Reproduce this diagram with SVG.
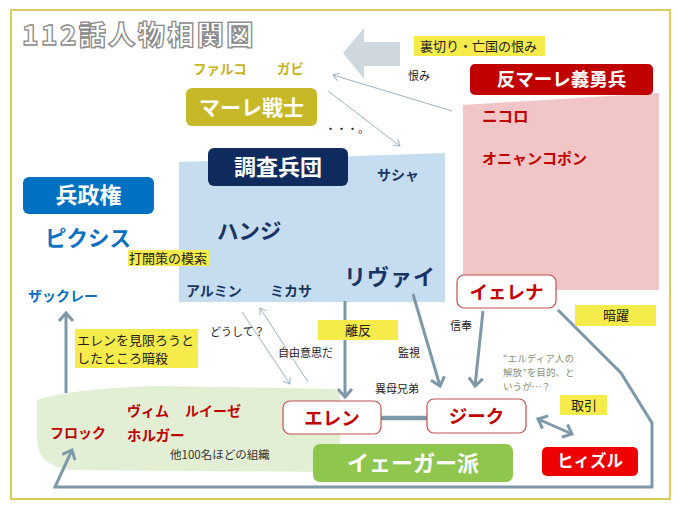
<svg xmlns="http://www.w3.org/2000/svg" width="680" height="510" viewBox="0 0 680 510">
<defs>
<style>
text{font-family:"Noto Sans CJK JP","Noto Sans",sans-serif;}
.b{font-weight:700;}
.w{fill:#ffffff;font-weight:700;}
.red{fill:#c00000;font-weight:700;}
.navy{fill:#1a3466;font-weight:700;}
.blue{fill:#0b70bf;font-weight:700;}
.gold{fill:#c8b21d;font-weight:700;}
.sm{fill:#222;font-size:11px;}
.hl{fill:#f5ec4c;}
.lbl{fill:#222;font-size:13px;}
.thick{stroke:#7d99a9;stroke-width:3;fill:none;}
.thin{stroke:#9fb3c2;stroke-width:1;fill:none;}
.nb{fill:#fff;stroke:#c0504d;stroke-width:1.2;}
.q{fill:#8a8f6a;font-size:9.6px;}
</style>
<marker id="ah" markerUnits="userSpaceOnUse" markerWidth="16" markerHeight="16" refX="9" refY="8" orient="auto-start-reverse">
<path d="M1,1 L9,8 L1,15" fill="none" stroke="#7d99a9" stroke-width="3"/>
</marker>
<marker id="at" markerUnits="userSpaceOnUse" markerWidth="10" markerHeight="10" refX="7" refY="5" orient="auto">
<path d="M1,1 L7,5 L1,9" fill="none" stroke="#9fb3c2" stroke-width="1"/>
</marker>
</defs>
<rect x="0" y="0" width="680" height="510" fill="#ffffff"/>
<rect x="11" y="10" width="659" height="489" fill="none" stroke="#d8cc5a" stroke-width="2"/>
<text x="22" y="45" font-size="27" font-weight="900" fill="#ffffff" stroke="#8a8a8a" stroke-width="1.3" letter-spacing="2.5">112話人物相関図</text>

<!-- background areas -->
<polygon points="463,105 659,93 659,290 463,290" fill="#f2c5c6"/>
<polygon points="179,162 445,153 445,302 179,302" fill="#c6ddf0"/>
<path d="M37,400 C60,392 110,387 157,386 L340,389 L340,472 L70,470 C46,466 38,456 37,440 Z" fill="#e3efd5"/>
<polygon points="343,53 364,28 364,42 400,42 400,66 364,66 364,79" fill="#cfd8de"/>

<!-- connectors -->
<g id="connectors">
<line class="thin" x1="452" y1="111" x2="333" y2="75" marker-end="url(#at)"/>
<line class="thin" x1="328" y1="91" x2="400" y2="146" marker-end="url(#at)"/>
<line class="thin" x1="242" y1="312" x2="290" y2="384" marker-end="url(#at)"/>
<line class="thin" x1="308" y1="382" x2="260" y2="308" marker-end="url(#at)"/>
<line class="thick" x1="345" y1="301" x2="345" y2="397" marker-end="url(#ah)"/>
<line class="thick" x1="413" y1="294" x2="440" y2="386" marker-end="url(#ah)"/>
<line class="thick" x1="483" y1="311" x2="475" y2="386" marker-end="url(#ah)"/>
<line x1="381" y1="418" x2="427" y2="418" stroke="#7d99a9" stroke-width="4.5"/>
<line class="thick" x1="538" y1="419" x2="572" y2="434" marker-start="url(#ah)" marker-end="url(#ah)"/>
<line class="thick" x1="66" y1="393" x2="66" y2="313" marker-end="url(#ah)"/>
<polyline class="thick" stroke-width="2.5" points="558,310 621,373 652,423 652,487 55,487 72,450" marker-end="url(#ah)"/>
</g>

<!-- labels -->
<g id="labels">
<rect class="hl" x="414" y="36" width="131" height="20"/>
<text class="lbl" x="420" y="51">裏切り・亡国の恨み</text>
<text class="sm" x="408" y="80">恨み</text>
<text x="325" y="133" font-size="11" fill="#222">・・・。</text>
<rect class="hl" x="128" y="250" width="81" height="16"/>
<text class="lbl" x="129" y="263">打開策の模索</text>
<rect class="hl" x="75" y="329" width="123" height="39"/>
<text class="lbl" x="77" y="345" font-size="12.5">エレンを見限ろうと</text>
<text class="lbl" x="77" y="363" font-size="12.5">したところ暗殺</text>
<text class="sm" x="210" y="336">どうして？</text>
<text class="sm" x="278" y="357">自由意思だ</text>
<rect class="hl" x="318" y="320" width="80" height="20"/>
<text class="lbl" x="345" y="335">離反</text>
<text class="sm" x="398" y="357">監視</text>
<text class="sm" x="450" y="330">信奉</text>
<text class="sm" x="375" y="393">異母兄弟</text>
<rect class="hl" x="575" y="305" width="81" height="21"/>
<text class="lbl" x="603" y="320">暗躍</text>
<text class="q" x="503" y="362">“エルディア人の</text>
<text class="q" x="503" y="376">解放”を目的、と</text>
<text class="q" x="503" y="390">いうが…？</text>
<rect class="hl" x="560" y="395" width="47" height="20"/>
<text class="lbl" x="571" y="410">取引</text>
<text x="170" y="459" font-size="11.5" fill="#333">他100名ほどの組織</text>
</g>

<!-- nodes -->
<g id="marley-warriors">
<rect x="186" y="88" width="131" height="38" rx="6" fill="#c6b826"/>
<text class="w" x="251.5" y="115" font-size="21" text-anchor="middle">マーレ戦士</text>
<text class="gold" x="193" y="74" font-size="13.5">ファルコ</text>
<text class="gold" x="277" y="74" font-size="13.5">ガビ</text>
</g>
<g id="anti-marley">
<rect x="470" y="64" width="183" height="31" rx="5" fill="#c00000"/>
<text class="w" x="561.5" y="86" font-size="18.5" text-anchor="middle">反マーレ義勇兵</text>
<text class="red" x="482" y="122" font-size="15.5">ニコロ</text>
<text class="red" x="482" y="164" font-size="15">オニャンコポン</text>
</g>
<g id="survey-corps">
<rect x="208" y="148" width="140" height="38" rx="6" fill="#102b5e"/>
<text class="w" x="278" y="175" font-size="22" text-anchor="middle">調査兵団</text>
<text class="navy" x="377" y="180" font-size="14">サシャ</text>
<text class="navy" x="217" y="239" font-size="21.5">ハンジ</text>
<text class="navy" x="344" y="285" font-size="22" letter-spacing="1">リヴァイ</text>
<text class="navy" x="186" y="296" font-size="14">アルミン</text>
<text class="navy" x="270" y="296" font-size="14">ミカサ</text>
</g>
<g id="military-gov">
<rect x="23" y="177" width="131" height="37" rx="6" fill="#0070c0"/>
<text class="w" x="88.5" y="203" font-size="22" text-anchor="middle">兵政権</text>
<text class="blue" x="45" y="246" font-size="21.5">ピクシス</text>
<text class="blue" x="28" y="301" font-size="14">ザックレー</text>
</g>
<g id="yelena">
<rect class="nb" x="457" y="275" width="99" height="33" rx="7"/>
<text class="red" x="506.5" y="299" font-size="18.5" text-anchor="middle">イェレナ</text>
</g>
<g id="eren">
<rect class="nb" x="283" y="401" width="98" height="33" rx="7"/>
<text class="red" x="332" y="425" font-size="18.5" text-anchor="middle">エレン</text>
</g>
<g id="zeke">
<rect class="nb" x="427" y="399" width="99" height="34" rx="7"/>
<text class="red" x="476.5" y="423" font-size="18.5" text-anchor="middle">ジーク</text>
</g>
<g id="yeagerists">
<rect x="313" y="444" width="200" height="38" rx="7" fill="#8fc74e"/>
<text class="w" x="413" y="471" font-size="22" text-anchor="middle">イェーガー派</text>
<text class="red" x="127" y="416" font-size="14">ヴィム</text>
<text class="red" x="185" y="416" font-size="14">ルイーゼ</text>
<text class="red" x="50" y="438" font-size="14">フロック</text>
<text class="red" x="127" y="441" font-size="14.5">ホルガー</text>
</g>
<g id="hizuru">
<rect x="542" y="447" width="96" height="29" rx="5" fill="#ee0000"/>
<text class="w" x="590" y="467" font-size="16.5" text-anchor="middle">ヒィズル</text>
</g>
</svg>
